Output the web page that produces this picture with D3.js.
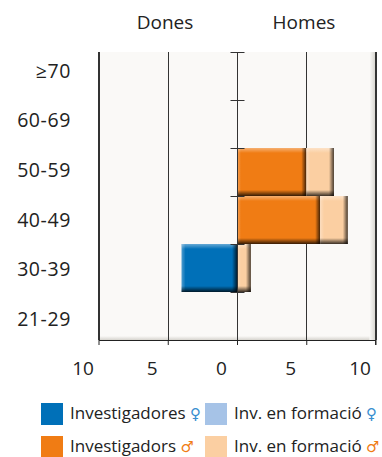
<!DOCTYPE html>
<html><head><meta charset="utf-8">
<script src="https://cdn.jsdelivr.net/npm/d3@7"></script>
<style>body{margin:0;background:#fff}svg{display:block}text{font-family:"Open Sans","Noto Sans",sans-serif;fill:#222}</style>
</head><body>
<script>
const categories = ["≥70","60-69","50-59","40-49","30-39","21-29"];
const invDones   = [0,0,0,0,4,0];
const formDones  = [0,0,0,0,0,0];
const invHomes   = [0,0,5,6,0,0];
const formHomes  = [0,0,2,2,1,0];
const xTicks = [-10,-5,0,5,10];
const headers = ["Dones","Homes"];
const legendItems = [
  {label:"Investigadores ", sym:"♀", color:"#0070b8", symColor:"#3a8fd0"},
  {label:"Inv. en formació ", sym:"♀", color:"#a6c3e7", symColor:"#3a8fd0"},
  {label:"Investigadors ", sym:"♂", color:"#f07c14", symColor:"#f07c14"},
  {label:"Inv. en formació ", sym:"♂", color:"#fbcfa2", symColor:"#f07c14"}
];

const W=382,H=457;
const svg=d3.select("body").append("svg").attr("width",W).attr("height",H);
const x=d3.scaleLinear().domain([-10,10]).range([98.5,375.5]);
const y=d3.scaleBand().domain(categories).range([52,340]).padding(0);
const yLab=d3.scaleBand().domain(categories).range([46,344]).padding(0);

const defs=svg.append("defs");
function grad(id,x1,y1,x2,y2,stops){
  const g=defs.append("linearGradient").attr("id",id).attr("x1",x1).attr("y1",y1).attr("x2",x2).attr("y2",y2);
  stops.forEach(s=>g.append("stop").attr("offset",s[0]).attr("stop-color",s[1]).attr("stop-opacity",s[2]));
}
grad("gTop",0,0,0,1,[[0,"#fff",0.4],[1,"#fff",0]]);
grad("gLeft",0,0,1,0,[[0,"#fff",0.3],[1,"#fff",0]]);
grad("gBot",0,0,0,1,[[0,"#000",0],[1,"#000",0.78]]);
grad("gRight",0,0,1,0,[[0,"#000",0],[1,"#000",0.72]]);
grad("gPlotR",0,0,1,0,[[0,"#faf9f7",1],[1,"#d6d4ce",1]]);
grad("gPlotB",0,0,0,1,[[0,"#faf9f7",1],[1,"#d6d4ce",1]]);

// plot background
const x0=x(-10),x1=x(10),y0=52,y1=340;
svg.append("rect").attr("x",x0).attr("y",y0).attr("width",x1-x0).attr("height",y1-y0).attr("fill","#faf9f7");
svg.append("rect").attr("x",x1-6).attr("y",y0).attr("width",6).attr("height",y1-y0).attr("fill","url(#gPlotR)");
svg.append("rect").attr("x",x0).attr("y",y1-4).attr("width",x1-x0-6).attr("height",4).attr("fill","url(#gPlotB)");

// gridlines
svg.selectAll("line.grid").data(xTicks.filter(d=>d!==0)).join("line")
  .attr("x1",d=>Math.round(x(d))+0.5).attr("x2",d=>Math.round(x(d))+0.5)
  .attr("y1",y0).attr("y2",y1).attr("stroke","#333").attr("stroke-width",1);

// bars
const segs=[];
categories.forEach((c,i)=>{
  segs.push({c,a:0,b:-invDones[i],color:legendItems[0].color});
  segs.push({c,a:-invDones[i],b:-(invDones[i]+formDones[i]),color:legendItems[1].color});
  segs.push({c,a:0,b:invHomes[i],color:legendItems[2].color});
  segs.push({c,a:invHomes[i],b:invHomes[i]+formHomes[i],color:legendItems[3].color});
});
const bars=segs.filter(s=>s.a!==s.b);
const bg=svg.append("g");
bars.forEach(s=>{
  const bx=x(Math.min(s.a,s.b)), bw=Math.abs(x(s.b)-x(s.a)), by=y(s.c), bh=y.bandwidth();
  const g=bg.append("g");
  g.append("rect").attr("x",bx).attr("y",by).attr("width",bw).attr("height",bh).attr("fill",s.color);
  g.append("rect").attr("x",bx).attr("y",by).attr("width",bw).attr("height",5).attr("fill","url(#gTop)");
  g.append("rect").attr("x",bx).attr("y",by).attr("width",4).attr("height",bh).attr("fill","url(#gLeft)");
  g.append("rect").attr("x",bx).attr("y",by+bh-6).attr("width",bw).attr("height",6).attr("fill","url(#gBot)");
  g.append("rect").attr("x",bx+bw-5).attr("y",by).attr("width",5).attr("height",bh).attr("fill","url(#gRight)");
});

// left axis line & right border
svg.append("line").attr("x1",x0).attr("x2",x0).attr("y1",y0).attr("y2",y1).attr("stroke","#333");
svg.append("line").attr("x1",x1).attr("x2",x1).attr("y1",y0).attr("y2",y1+5).attr("stroke","#333");

// center axis
const cx=Math.round(x(0))+0.5;
svg.append("line").attr("x1",cx).attr("x2",cx).attr("y1",y0).attr("y2",y1).attr("stroke","#333");
const bounds=categories.map(c=>y(c));
svg.selectAll("line.ct").data(bounds).join("line")
  .attr("x1",cx-7).attr("x2",cx+7).attr("y1",d=>Math.round(d)+0.5).attr("y2",d=>Math.round(d)+0.5)
  .attr("stroke","#333");

// bottom axis
const ax=svg.append("g").attr("transform",`translate(0,${y1})`)
  .call(d3.axisBottom(x).tickValues(xTicks).tickSize(5).tickSizeOuter(0).tickFormat(d=>Math.abs(d)));
ax.select(".domain").attr("stroke","#222").attr("stroke-width",1.2);
ax.selectAll(".tick line").attr("stroke","#222");
ax.selectAll(".tick text").attr("font-size",19).attr("dx",-16).attr("dy",27).attr("fill","#222")
  .style("font-family",'"Open Sans","Noto Sans",sans-serif');

// category labels
svg.selectAll("text.cat").data(categories).join("text")
  .attr("x",71).attr("y",d=>yLab(d)+yLab.bandwidth()/2).attr("dy","0.35em")
  .attr("text-anchor","end").attr("font-size",19.5).attr("letter-spacing",0.6).text(d=>d);

// headers
svg.selectAll("text.hdr").data(headers).join("text")
  .attr("x",(d,i)=>i===0?165:304).attr("y",29).attr("text-anchor","middle").attr("font-size",19).text(d=>d);

// legend
const lg=svg.append("g");
legendItems.forEach((d,i)=>{
  const col=i%2,row=Math.floor(i/2);
  const lx=col===0?41:205, ly=403+row*33;
  lg.append("rect").attr("x",lx).attr("y",ly).attr("width",22).attr("height",22).attr("fill",d.color);
  const t=lg.append("text").attr("x",lx+29).attr("y",ly+16).attr("font-size",17);
  t.append("tspan").text(d.label);
  t.append("tspan").attr("fill",d.symColor).style("fill",d.symColor)
    .style("font-family",'"DejaVu Sans",sans-serif').attr("font-size",15).text(d.sym);
});
</script>
</body></html>
